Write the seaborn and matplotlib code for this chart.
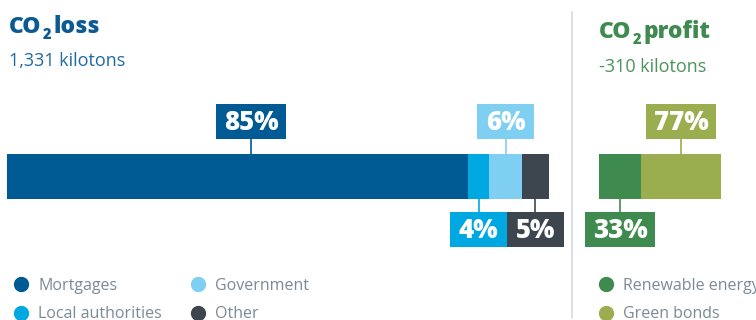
import matplotlib
matplotlib.use("Agg")
import matplotlib.pyplot as plt
from matplotlib.patches import Rectangle
from matplotlib.lines import Line2D
import numpy as np
import seaborn as sns

# data
loss_categories = ["Mortgages", "Local authorities", "Government", "Other"]
loss_share = [85, 4, 6, 5]
loss_colors = ["#005a93", "#00a8e1", "#7fcff3", "#3d464f"]

profit_categories = ["Renewable energy", "Green bonds"]
profit_bar = [7.8, 14.7]          # bar lengths on the same scale as the loss bar
profit_labels = ["33%", "77%"]
profit_colors = ["#3f8a4e", "#9bae4f"]

loss_title = "1,331 kilotons"
profit_title = "-310 kilotons"

W, H = 756, 320

sns.set_style("white")
plt.rcParams["font.family"] = ["Open Sans", "DejaVu Sans"]

fig = plt.figure(figsize=(W / 100, H / 100), dpi=100)
renderer = fig.canvas.get_renderer()


def fx(px):
    return px / W


def fy(py):
    return 1 - py / H


def stacked_bar(ax, values, colors, name):
    # seaborn stacking: draw cumulative totals from the longest to the shortest
    cum = np.cumsum(values)
    for total, color in reversed(list(zip(cum, colors))):
        sns.barplot(x=[total], y=[name], orient="h", color=color, saturation=1,
                    width=1, linewidth=0, ax=ax)
    ax.set_xlim(0, None)
    ax.set_ylim(0.5, -0.5)
    ax.axis("off")
    return cum - np.array(values) / 2


def label_box(ax, xdata, text, color, top, nudge=0):
    px = ax.transData.transform((xdata, 0))[0] + nudge
    w = 70 if len(text) == 3 else 57
    if top:
        y0, y1, l0, l1 = 104, 139, 139, 154
    else:
        y0, y1, l0, l1 = 212, 247, 199, 212
    fig.add_artist(Rectangle((fx(px - w / 2), fy(y1)), w / W, (y1 - y0) / H,
                             transform=fig.transFigure, color=color, lw=0))
    fig.add_artist(Line2D([fx(px), fx(px)], [fy(l0), fy(l1)], color=color, lw=1.2,
                          transform=fig.transFigure))
    fig.text(fx(px), fy((y0 + y1) / 2 + 1), text, color="white", fontsize=18.5,
             fontweight="heavy", ha="center", va="center")


def co2_title(x, y, word, color):
    # CO, a lowered small 2, then the word
    t = fig.text(fx(x), fy(y), "CO", fontsize=16.5, fontweight="heavy", color=color,
                 va="baseline")
    x2 = t.get_window_extent(renderer).x1 + 1
    s = fig.text(x2 / W, fy(y + 6), "2", fontsize=10.5, fontweight="heavy",
                 color=color, va="baseline")
    x3 = s.get_window_extent(renderer).x1 + 3
    fig.text(x3 / W, fy(y), word, fontsize=16.5, fontweight="heavy", color=color,
             va="baseline")


# loss bar
ax1 = fig.add_axes([fx(7), fy(199), 542 / W, 45 / H])
centers = stacked_bar(ax1, loss_share, loss_colors, "loss")
ax1.set_xlim(0, 100)
label_top = [True, False, True, False]
nudges = [14, 0, 0, 0]
for c, v, col, t, n in zip(centers, loss_share, loss_colors, label_top, nudges):
    label_box(ax1, c, f"{v}%", col, t, n)

# profit bar
ax2 = fig.add_axes([fx(599), fy(199), 122 / W, 45 / H])
centers = stacked_bar(ax2, profit_bar, profit_colors, "profit")
ax2.set_xlim(0, sum(profit_bar))
for c, lab, col, t in zip(centers, profit_labels, profit_colors, [False, True]):
    label_box(ax2, c, lab, col, t)

# titles
co2_title(9, 33, "loss", "#0b5a92")
fig.text(fx(9), fy(66), loss_title, fontsize=13, color="#1f6aa2", va="baseline")
co2_title(599, 38, "profit", "#3f8a4e")
fig.text(fx(599), fy(72), profit_title, fontsize=13, color="#4a9559", va="baseline")

# divider
fig.add_artist(Line2D([fx(572), fx(572)], [fy(12), fy(318)], color="#d3dae3", lw=1.2,
                      transform=fig.transFigure))

# legends
def legend_item(x, y, color, text):
    fig.add_artist(Line2D([fx(x)], [fy(y)], marker="o", markersize=10, color=color,
                          lw=0, transform=fig.transFigure))
    fig.text(fx(x + 17), fy(y + 5.5), text, fontsize=11.5, color="#7b8a98", va="baseline")


legend_pos = [(21, 284), (21, 313), (198, 284), (198, 313)]
for (x, y), col, name in zip(legend_pos, loss_colors, loss_categories):
    legend_item(x, y, col, name)
for y, col, name in zip([284, 313], profit_colors, profit_categories):
    legend_item(606, y, col, name)

fig.savefig("out.png", dpi=100)
